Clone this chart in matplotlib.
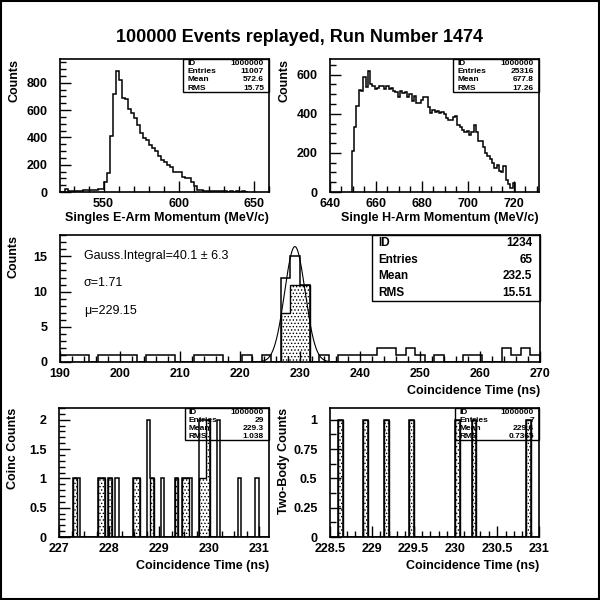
import numpy as np
import matplotlib.pyplot as plt
from matplotlib.patches import Rectangle
from matplotlib.ticker import MultipleLocator

plt.rcParams['font.family'] = ['Liberation Sans', 'DejaVu Sans']
plt.rcParams['font.weight'] = 'bold'
plt.rcParams['axes.labelweight'] = 'bold'
plt.rcParams['hatch.linewidth'] = 0.6

# ---- data ----
# singles E-arm momentum, 2 MeV/c bins starting at 520
e_lo, e_bin = 520, 2
e_counts = [0, 0, 25, 8, 8, 8, 8, 8, 12, 15, 15, 15, 15, 25, 25,
            70, 140, 410, 720, 885, 820, 690, 680, 610, 580, 540, 490, 430,
            395, 380, 345, 320, 300, 267, 235, 220, 200, 180, 150, 148,
            148, 110, 100, 100, 75, 45, 15, 12, 10, 8, 5, 10, 8, 5, 4, 5,
            3, 5, 3, 4, 3, 5, 2]
e_stats = ["1000000", "11007", "572.6", "15.75"]

# single H-arm momentum, 1 MeV/c bins centred on 650..720
h_lo, h_bin = 649.5, 1
h_counts = [212, 330, 440, 520, 515, 588, 535, 618, 550, 540,
            526, 530, 540, 540, 526, 540, 525, 530, 514, 510,
            485, 514, 505, 509, 488, 500, 465, 490, 456, 456,
            470, 486, 486, 435, 404, 420, 410, 415, 404, 410,
            400, 380, 370, 370, 385, 390, 340, 330, 315, 305,
            310, 290, 305, 343, 305, 262, 259, 230, 200, 185,
            168, 150, 124, 140, 107, 100, 133, 60, 40, 20,
            45]
h_stats = ["1000000", "25316", "677.8", "17.26"]

# coincidence time, 50 bins of 1.6 ns from 190
t_lo, t_bin = 190, 1.6
t_counts = [1, 1, 1, 0, 1, 1, 1, 1, 0, 1, 1, 1, 0, 0, 1, 1, 1, 0, 0, 1, 0, 1, 0,
            12, 15, 11,
            0, 1, 0, 1, 1, 1, 1, 2, 2, 1, 2, 1, 0, 1, 0, 0, 1, 1, 0, 0, 2, 1, 2, 1]
t_cut = [0] * 23 + [7, 11, 11] + [0] * 24
t_stats = ["1234", "65", "232.5", "15.51"]
g_integral, g_err = 40.1, 6.3
g_sigma, g_mu = 1.71, 229.15
g_peak = 16.4

# coinc counts, 60 bins of 0.07 ns from 227
c_lo, c_bin, c_n = 227, 0.07, 60
c_bins = [4, 5, 11, 12, 14, 16, 21, 22, 25, 26, 29, 33, 35, 36, 37, 40, 41, 42, 45, 51, 56]
c_all = [1, 1, 1, 1, 1, 1, 1, 1, 2, 1, 1, 1, 1, 1, 1, 2, 2, 2, 2, 1, 1]
c_dot = [1, 0, 1, 1, 1, 0, 1, 1, 0, 1, 0, 1, 1, 1, 0, 1, 1, 2, 0, 0, 0]
c_stats = ["1000000", "29", "229.3", "1.038"]

# two-body counts, 50 bins of 0.05 ns from 228.5
b_lo, b_bin, b_n = 228.5, 0.05, 50
b_bins = [2, 8, 13, 19, 30, 34, 47]
b_vals = [1, 1, 1, 1, 1, 1, 1]
b_stats = ["1000000", "7", "229.6", "0.7365"]

fig = plt.figure(figsize=(6, 6), dpi=100)
fig.patches.append(Rectangle((0.001, 0.001), 0.998, 0.998, transform=fig.transFigure,
                             fill=False, lw=1.5, ec='black'))
fig.text(0.5, 1 - 38 / 600, "100000 Events replayed, Run Number 1474",
         ha='center', va='center', fontsize=13, weight='bold')


def px_axes(x0, y0, x1, y1):
    return fig.add_axes([x0 / 600, 1 - y1 / 600, (x1 - x0) / 600, (y1 - y0) / 600])


def style(ax, xmaj, xmin, ymaj, ymin):
    for s in ax.spines.values():
        s.set_linewidth(1.2)
    ax.xaxis.set_major_locator(MultipleLocator(xmaj))
    ax.xaxis.set_minor_locator(MultipleLocator(xmin))
    ax.yaxis.set_major_locator(MultipleLocator(ymaj))
    ax.yaxis.set_minor_locator(MultipleLocator(ymin))
    ax.tick_params(which='both', direction='in', top=False, right=False, labelsize=9, width=1)
    ax.tick_params(which='major', length=8)
    ax.tick_params(which='minor', length=4)
    ax.tick_params(axis='y', pad=9)
    ax.tick_params(axis='x', pad=4)


def stats_box(ax, vals, x0, y0, fs, pad=0.012):
    ax.add_patch(Rectangle((x0, y0), 1 - x0, 1 - y0, transform=ax.transAxes,
                           fill=False, lw=1, ec='black', clip_on=False))
    rows = ["ID", "Entries", "Mean", "RMS"]
    h = (1 - y0) / 4
    for i, (r, v) in enumerate(zip(rows, vals)):
        yy = 1 - h * (i + 0.5)
        ax.text(x0 + pad * 1.5, yy, r, transform=ax.transAxes, ha='left', va='center', fontsize=fs)
        ax.text(1 - pad * 2, yy, v, transform=ax.transAxes, ha='right', va='center', fontsize=fs)


def edges(lo, w, n):
    return lo + w * np.arange(n + 1)


def fill_bins(n, idx, vals):
    a = np.zeros(n)
    a[idx] = vals
    return a


gfmt = plt.FuncFormatter(lambda v, p: f"{v:g}")

# top left
ax1 = px_axes(60, 59, 269, 192)
ax1.stairs(e_counts, edges(e_lo, e_bin, len(e_counts)), color='black', lw=1.1)
ax1.set_xlim(521, 660)
ax1.set_ylim(0, 1.1 * max(e_counts))
style(ax1, 50, 10, 200, 50)
stats_box(ax1, e_stats, 0.59, 0.75, 6)
ax1.set_xlabel("Singles E-Arm Momentum (MeV/c)", loc='right', fontsize=9)
ax1.set_ylabel("Counts", loc='top', fontsize=9)
ax1.xaxis.set_label_coords(1, -0.15)
ax1.yaxis.set_label_coords(-0.19, 1)

# top right
ax2 = px_axes(330, 59, 539, 192)
ax2.stairs(h_counts, edges(h_lo, h_bin, len(h_counts)), color='black', lw=1.1)
ax2.set_xlim(640, 731)
ax2.set_ylim(0, 1.1 * max(h_counts))
style(ax2, 20, 5, 200, 50)
stats_box(ax2, h_stats, 0.59, 0.75, 6)
ax2.set_xlabel("Single H-Arm Momentum (MeV/c)", loc='right', fontsize=9)
ax2.set_ylabel("Counts", loc='top', fontsize=9)
ax2.xaxis.set_label_coords(1, -0.15)
ax2.yaxis.set_label_coords(-0.19, 1)

# middle
ax3 = px_axes(60, 235, 540, 362)
te = edges(t_lo, t_bin, len(t_counts))
ax3.stairs(t_cut, te, fill=True, facecolor='white', edgecolor='black', hatch='.....', lw=1)
ax3.stairs(t_counts, te, color='black', lw=1.1)
xg = np.linspace(g_mu - 4.2 * g_sigma, g_mu + 4.2 * g_sigma, 300)
ax3.plot(xg, g_peak * np.exp(-0.5 * ((xg - g_mu) / g_sigma) ** 2), color='black', lw=0.8)
ax3.set_xlim(190, 270)
ax3.set_ylim(0, 1.1 * g_peak)
style(ax3, 10, 2, 5, 1)
stats_box(ax3, t_stats, 0.65, 0.48, 8.5, pad=0.008)
for yy, s in [(0.835, f"Gauss.Integral={g_integral} ± {g_err}"),
              (0.62, f"σ={g_sigma}"), (0.40, f"μ={g_mu}")]:
    ax3.text(0.05, yy, s, transform=ax3.transAxes, fontsize=9, weight='normal', va='center')
ax3.set_xlabel("Coincidence Time (ns)", loc='right', fontsize=9)
ax3.set_ylabel("Counts", loc='top', fontsize=9)
ax3.xaxis.set_label_coords(1, -0.18)
ax3.yaxis.set_label_coords(-0.085, 1)

# bottom left
ax4 = px_axes(59, 408, 269, 537)
ce = edges(c_lo, c_bin, c_n)
ax4.stairs(fill_bins(c_n, c_bins, c_dot), ce, fill=True, facecolor='white',
           edgecolor='black', hatch='.....', lw=1)
ax4.stairs(fill_bins(c_n, c_bins, c_all), ce, color='black', lw=1.1)
ax4.set_xlim(227, 231.2)
ax4.set_ylim(0, 1.1 * max(c_all))
style(ax4, 1, 0.25, 0.5, 0.1)
ax4.yaxis.set_major_formatter(gfmt)
stats_box(ax4, c_stats, 0.6, 0.75, 6)
ax4.set_xlabel("Coincidence Time (ns)", loc='right', fontsize=9)
ax4.set_ylabel("Coinc Counts", loc='top', fontsize=9)
ax4.xaxis.set_label_coords(1, -0.18)
ax4.yaxis.set_label_coords(-0.19, 1)

# bottom right
ax5 = px_axes(330, 408, 539, 537)
be = edges(b_lo, b_bin, b_n)
ax5.stairs(fill_bins(b_n, b_bins, b_vals), be, fill=True, facecolor='white',
           edgecolor='black', hatch='.....', lw=1)
ax5.stairs(fill_bins(b_n, b_bins, b_vals), be, color='black', lw=1.1)
ax5.set_xlim(228.5, 231)
ax5.set_ylim(0, 1.1 * max(b_vals))
style(ax5, 0.5, 0.1, 0.25, 0.125)
ax5.xaxis.set_major_formatter(gfmt)
ax5.yaxis.set_major_formatter(gfmt)
stats_box(ax5, b_stats, 0.6, 0.75, 6)
ax5.set_xlabel("Coincidence Time (ns)", loc='right', fontsize=9)
ax5.set_ylabel("Two-Body Counts", loc='top', fontsize=9)
ax5.xaxis.set_label_coords(1, -0.18)
ax5.yaxis.set_label_coords(-0.19, 1)

fig.savefig("out.png", dpi=100)
